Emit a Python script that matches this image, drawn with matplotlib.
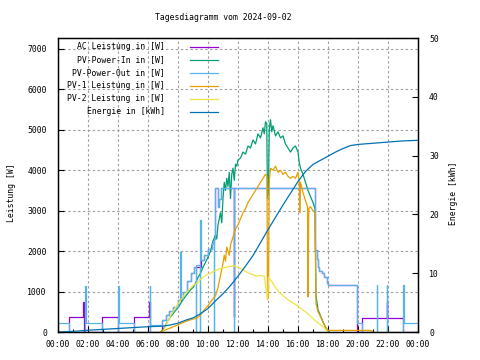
#!/usr/bin/env python3
"""Tagesdiagramm 2024-09-02 im gnuplot-Stil nachbauen."""

import matplotlib
matplotlib.use('Agg')
import matplotlib.pyplot as plt
from matplotlib.ticker import MultipleLocator, FuncFormatter

# --- Daten ---------------------------------------------------------------
ac_times = ["00:00", "00:44", "01:40", "01:42", "02:55", "04:01", "05:05", "06:05", "06:07",
            "06:55", "07:10", "07:25", "07:40", "08:00", "08:10", "08:20", "08:35", "08:50",
            "09:05", "09:31", "09:45", "10:00", "10:15", "10:24", "10:28", "10:38", "10:45",
            "10:50", "11:43", "11:45", "17:08", "17:15", "17:20", "17:25", "17:35", "17:45",
            "17:55", "18:00", "19:55", "20:15", "21:55", "21:57", "23:00", "24:00"]
ac_values = [0, 370, 750, 0, 370, 0, 370, 750, 0,
             300, 420, 520, 625, 800, 850, 1000, 1250, 1450,
             1600, 1780, 1900, 2050, 2200, 2300, 3550, 3100, 3300,
             3550, 380, 3550, 2030, 1800, 1610, 1500, 1450, 1350,
             1200, 1160, 0, 355, 750, 355, 0, 0]

out_times = ["00:00", "00:44", "01:48", "01:50", "02:55", "04:00", "04:02", "05:05", "06:06",
             "06:08", "06:55", "07:10", "07:25", "07:40", "08:00", "08:08", "08:10", "08:20",
             "08:35", "08:50", "09:05", "09:11", "09:12", "09:28", "09:29", "09:31", "09:45",
             "10:00", "10:15", "10:22", "10:24", "10:28", "10:38", "10:45", "10:50", "11:43",
             "11:45", "17:08", "17:15", "17:20", "17:25", "17:35", "17:45", "17:55", "18:00",
             "19:55", "20:15", "21:15", "21:17", "21:55", "21:57", "23:00", "23:02", "24:00"]
out_values = [215, 0, 1140, 215, 0, 1140, 215, 0, 1140,
              175, 300, 420, 520, 625, 800, 1990, 850, 1000,
              1250, 1450, 1600, 0, 1650, 0, 2770, 1780, 1900,
              2050, 2200, 0, 2300, 3550, 3100, 3300, 3550, 0,
              3550, 2030, 1800, 1610, 1500, 1450, 1350, 1200, 1160,
              215, 0, 1160, 0, 1160, 0, 1160, 215, 215]

pvin_times = ["06:50", "07:00", "07:10", "07:20", "07:30", "07:40", "07:50", "08:00", "08:10",
              "08:20", "08:30", "08:40", "08:50", "09:00", "09:10", "09:20", "09:30", "09:40",
              "09:50", "10:00", "10:10", "10:20", "10:30", "10:35", "10:40", "10:45", "10:50",
              "10:55", "11:00", "11:05", "11:10", "11:15", "11:20", "11:25", "11:30", "11:35",
              "11:40", "11:45", "11:50", "11:55", "12:00", "12:10", "12:20", "12:30", "12:40",
              "12:50", "13:00", "13:10", "13:20", "13:30", "13:40", "13:45", "13:50", "13:55",
              "13:58", "14:02", "14:05", "14:10", "14:15", "14:20", "14:30", "14:40", "14:50",
              "15:00", "15:10", "15:20", "15:30", "15:40", "15:50", "16:00", "16:05", "16:10",
              "16:20", "16:30", "16:40", "16:50", "17:00", "17:08", "17:12", "17:20", "17:30",
              "17:40", "17:50", "18:00", "18:05"]
pvin_values = [0, 60, 170, 280, 380, 450, 530, 600, 700,
               800, 880, 960, 1040, 1100, 1200, 1350, 1450, 1600,
               1720, 1850, 2000, 2250, 2400, 2300, 2650, 2800, 2950,
               2700, 3300, 3700, 3500, 3800, 3600, 3950, 3300, 3900,
               4050, 3750, 4150, 4100, 4250, 4300, 4450, 4400, 4600,
               4550, 4750, 4650, 4900, 4800, 5050, 4900, 5200, 5150,
               3300, 3500, 5000, 5250, 4950, 5100, 4850, 4950, 4800,
               4850, 4650, 4550, 4450, 4550, 4600, 4450, 4200, 4050,
               3900, 3700, 3500, 3350, 3200, 3050, 900, 550, 400,
               250, 120, 30, 0]

pv1_times = ["06:50", "07:00", "07:30", "08:00", "08:30", "09:00", "09:15", "09:30", "09:45",
             "10:00", "10:15", "10:30", "10:40", "10:50", "11:00", "11:05", "11:10", "11:15",
             "11:25", "11:30", "11:40", "11:50", "12:00", "12:10", "12:20", "12:30", "12:40",
             "12:50", "13:00", "13:10", "13:20", "13:30", "13:40", "13:50", "13:56", "13:58",
             "14:02", "14:05", "14:10", "14:20", "14:30", "14:40", "14:50", "15:00", "15:10",
             "15:20", "15:30", "15:40", "15:50", "16:00", "16:05", "16:07", "16:10", "16:20",
             "16:30", "16:38", "16:40", "16:43", "16:50", "17:00", "17:08", "17:12", "17:20",
             "17:30", "17:40", "17:50", "18:00", "20:50", "21:00"]
pv1_values = [0, 30, 100, 180, 260, 320, 340, 420, 550,
              650, 780, 900, 1100, 1400, 1700, 1900, 1750, 2100,
              1900, 2150, 2350, 2550, 2650, 2800, 2950, 3050, 3200,
              3300, 3400, 3500, 3600, 3700, 3800, 3900, 3850, 800,
              900, 3750, 4050, 4000, 4100, 3950, 4000, 3900, 3950,
              3850, 3800, 3850, 3800, 3950, 3700, 2950, 3700, 3450,
              3250, 3100, 870, 3050, 3100, 3000, 2950, 700, 500,
              380, 250, 120, 40, 40, 0]

pv2_times = ["07:00", "07:10", "07:20", "07:30", "07:45", "08:00", "08:15", "08:30", "08:45",
             "09:00", "09:15", "09:30", "09:45", "10:00", "10:15", "10:30", "10:45", "11:00",
             "11:15", "11:30", "11:45", "12:00", "12:15", "12:30", "12:45", "13:00", "13:15",
             "13:30", "13:45", "13:58", "14:02", "14:15", "14:30", "14:45", "15:00", "15:15",
             "15:30", "15:45", "16:00", "16:15", "16:30", "16:45", "17:00", "17:15", "17:30",
             "17:45", "18:00"]
pv2_values = [0, 150, 280, 400, 550, 700, 820, 950, 1050,
              1150, 1200, 1300, 1380, 1430, 1470, 1520, 1560, 1580,
              1610, 1620, 1640, 1600, 1560, 1500, 1450, 1420, 1380,
              1400, 1380, 800, 1350, 1250, 1100, 980, 900, 820,
              760, 700, 640, 560, 500, 420, 330, 250, 180,
              100, 0]

energy_times = ["00:00", "01:00", "02:00", "03:00", "04:00", "05:00", "06:00", "07:00", "07:30",
                "08:00", "08:30", "09:00", "09:30", "10:00", "10:30", "11:00", "11:30", "12:00",
                "12:30", "13:00", "13:30", "14:00", "14:30", "15:00", "15:30", "16:00", "16:30",
                "17:00", "17:30", "18:00", "18:30", "19:00", "19:30", "20:00", "21:00", "22:00",
                "23:00", "24:00"]
energy_values = [0.0, 0.1, 0.3, 0.45, 0.6, 0.75, 0.9, 1.0, 1.2,
                 1.5, 2.0, 2.4, 3.1, 4.0, 5.3, 6.5, 7.9, 9.5,
                 11.2, 13.0, 15.2, 17.4, 19.5, 21.6, 23.6, 25.6, 27.3,
                 28.5, 29.2, 29.9, 30.6, 31.2, 31.7, 31.9, 32.1, 32.3,
                 32.5, 32.6]

series_labels = ["AC Leistung in [W]", "PV-Power-In in [W]", "PV-Power-Out in [W]",
                 "PV-1 Leistung in [W]", "PV-2 Leistung in [W]", "Energie in [kWh]"]
series_colors = ["#9400d3", "#009e73", "#56b4e9", "#e69f00", "#f0e442", "#0072b2"]


def hours(times):
    return [int(t[:2]) + int(t[3:]) / 60 for t in times]


FONT = 'DejaVu Sans Mono'
FS = 5.9

fig = plt.figure(figsize=(4.8, 3.6), dpi=100)
ax = fig.add_axes([58 / 480, 28 / 360, 360 / 480, 294 / 360])
ax2 = ax.twinx()

lw = 0.9
ax.plot(hours(ac_times), ac_values, color=series_colors[0], lw=lw, drawstyle='steps-post')
ax.plot(hours(pvin_times), pvin_values, color=series_colors[1], lw=lw)
ax.plot(hours(out_times), out_values, color=series_colors[2], lw=lw, drawstyle='steps-post')
ax.plot(hours(pv1_times), pv1_values, color=series_colors[3], lw=lw)
ax.plot(hours(pv2_times), pv2_values, color=series_colors[4], lw=lw)
ax2.plot(hours(energy_times), energy_values, color=series_colors[5], lw=lw)

# Achsen
ax.set_xlim(0, 24)
ax.set_ylim(0, 7270)
ax2.set_ylim(0, 50)
ax.xaxis.set_major_locator(MultipleLocator(2))
ax.xaxis.set_minor_locator(MultipleLocator(1))
ax.xaxis.set_major_formatter(FuncFormatter(lambda v, p: f"{int(v) % 24:02d}:00"))
ax.yaxis.set_major_locator(MultipleLocator(1000))
ax2.yaxis.set_major_locator(MultipleLocator(10))

ax.tick_params(axis='both', which='both', direction='in', labelsize=FS, width=0.8)
ax.tick_params(axis='x', which='major', length=4, pad=6)
ax.tick_params(axis='x', which='minor', length=2)
ax.tick_params(axis='y', length=4, pad=8)
ax2.tick_params(axis='y', direction='in', length=4, pad=8, labelsize=FS, width=0.8)
for lab in ax.get_xticklabels() + ax.get_yticklabels() + ax2.get_yticklabels():
    lab.set_family(FONT)

ax.grid(True, which='major', color='#a0a0a0', linestyle=(0, (2.2, 2.2)), linewidth=0.8)
ax.set_axisbelow(True)
for a in (ax, ax2):
    for s in a.spines.values():
        s.set_linewidth(0.9)

fig.text(223 / 480, 1 - 18 / 360, "Tagesdiagramm vom 2024-09-02", ha='center', va='center',
         family=FONT, fontsize=FS)
fig.text(12 / 480, 1 - 193 / 360, "Leistung [W]", rotation=90, ha='center', va='center',
         family=FONT, fontsize=FS)
fig.text(453 / 480, 1 - 193 / 360, "Energie [kWh]", rotation=90, ha='center', va='center',
         family=FONT, fontsize=FS)

# Legende im gnuplot-Stil: Text rechtsbündig, Linie dahinter
for i, (label, col) in enumerate(zip(series_labels, series_colors)):
    y = 0.970 - i * 0.0442
    ax2.text(0.297, y, label, transform=ax2.transAxes, ha='right', va='center',
             family=FONT, fontsize=FS)
    ax2.plot([0.367, 0.444], [y, y], transform=ax2.transAxes, color=col, lw=lw, clip_on=False)

fig.savefig('out.png', dpi=100, facecolor='white')
